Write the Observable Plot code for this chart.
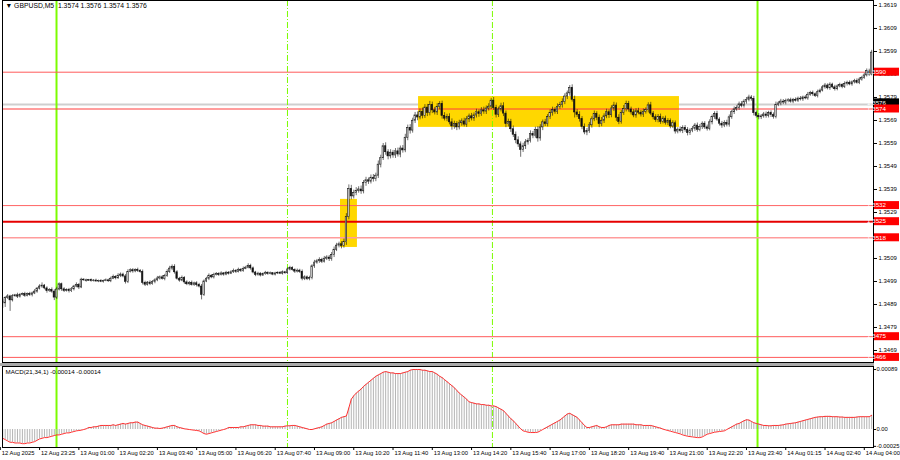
<!DOCTYPE html>
<html>
<head>
<meta charset="utf-8">
<script src="https://cdn.jsdelivr.net/npm/d3@7"></script>
<script src="https://cdn.jsdelivr.net/npm/@observablehq/plot@0.6"></script>
<style>
  html, body { margin: 0; padding: 0; background: #ffffff; }
  #chart { position: relative; width: 900px; height: 460px; overflow: hidden; background: #ffffff; }
  #chart svg { position: absolute; left: 0; }
  #sep { position: absolute; left: 0px; width: 874px; top: 363px; height: 3px; background: #a9a9a9; }
</style>
</head>
<body>
<div id="chart"><div id="sep"></div></div>
<script>
// ---------------- data ----------------
const symbolTitle = "\u25BC GBPUSD,M5  1.3574 1.3576 1.3574 1.3576";
const macdTitle = "MACD(21,34,1) -0.00014 -0.00014";

const firstOpen = 1.34896;
const closes = [
1.34902,
1.34895,1.34918,1.34925,1.34908,1.34926,1.34930,1.34924,1.34932,1.34935,1.34928,1.34936,1.34931,1.34938,1.34946,1.34959,1.34968,
1.34972,1.34960,1.34948,1.34953,1.34946,1.34920,1.34955,1.34978,1.34956,1.34949,1.34954,1.34948,1.34956,1.34968,1.34975,1.34964,
1.34998,1.34995,1.34993,1.34996,1.34992,1.34994,1.34990,1.34993,1.34989,1.34992,1.34995,1.34991,1.35002,1.35010,1.35004,1.35015,
1.35020,1.35012,1.34988,1.35032,1.35039,1.35034,1.35040,1.35036,1.35031,1.34984,1.34976,1.34985,1.34979,1.34988,1.34995,1.35003,
1.35008,1.35001,1.35014,1.35032,1.35046,1.35054,1.35030,1.35002,1.34994,1.35006,1.34986,1.34978,1.34984,1.34975,1.34982,1.34974,
1.34968,1.34932,1.34990,1.35002,1.35015,1.35008,1.35019,1.35023,1.35018,1.35025,1.35020,1.35028,1.35024,1.35030,1.35036,1.35032,
1.35041,1.35036,1.35045,1.35050,1.35058,1.35047,1.35029,1.35018,1.35024,1.35016,1.35022,1.35028,1.35023,1.35026,1.35020,1.35025,
1.35028,1.35024,1.35030,1.35026,1.35042,1.35048,1.35040,1.35033,1.35037,1.35032,1.35002,1.35008,1.35000,1.35005,1.35056,1.35072,
1.35078,1.35084,1.35076,1.35089,1.35094,1.35087,1.35105,1.35128,1.35146,1.35152,1.35144,1.35161,1.35270,1.35392,1.35360,1.35375,
1.35384,1.35390,1.35382,1.35418,1.35430,1.35424,1.35441,1.35435,1.35450,1.35498,1.35526,1.35578,1.35552,1.35534,1.35550,1.35538,
1.35556,1.35542,1.35568,1.35560,1.35615,1.35658,1.35646,1.35689,1.35712,1.35703,1.35728,1.35710,1.35746,1.35722,1.35758,1.35734,
1.35725,1.35748,1.35762,1.35710,1.35698,1.35706,1.35682,1.35664,1.35675,1.35660,1.35678,1.35686,1.35672,1.35695,1.35708,1.35699,
1.35712,1.35726,1.35718,1.35734,1.35729,1.35742,1.35750,1.35776,1.35744,1.35715,1.35738,1.35752,1.35720,1.35674,1.35683,1.35652,
1.35628,1.35604,1.35586,1.35562,1.35578,1.35595,1.35602,1.35631,1.35624,1.35648,1.35612,1.35660,1.35682,1.35674,1.35705,1.35722,
1.35736,1.35728,1.35749,1.35758,1.35770,1.35794,1.35808,1.35832,1.35780,1.35725,1.35714,1.35696,1.35662,1.35638,1.35645,1.35669,
1.35695,1.35718,1.35702,1.35674,1.35689,1.35708,1.35726,1.35713,1.35742,1.35755,1.35702,1.35684,1.35723,1.35740,1.35762,1.35738,
1.35725,1.35712,1.35730,1.35724,1.35716,1.35728,1.35735,1.35756,1.35720,1.35704,1.35692,1.35706,1.35684,1.35698,1.35680,1.35688,
1.35664,1.35678,1.35642,1.35650,1.35644,1.35658,1.35648,1.35635,1.35646,1.35654,1.35668,1.35649,1.35662,1.35676,1.35660,1.35654,
1.35682,1.35705,1.35718,1.35694,1.35676,1.35668,1.35680,1.35672,1.35704,1.35726,1.35738,1.35745,1.35760,1.35754,1.35772,1.35780,
1.35790,1.35784,1.35722,1.35710,1.35704,1.35708,1.35716,1.35710,1.35722,1.35714,1.35706,1.35758,1.35764,1.35772,1.35768,1.35775,
1.35778,1.35772,1.35780,1.35776,1.35785,1.35782,1.35790,1.35786,1.35802,1.35810,1.35804,1.35796,1.35813,1.35820,1.35834,1.35842,
1.35830,1.35846,1.35834,1.35826,1.35838,1.35844,1.35836,1.35849,1.35854,1.35847,1.35856,1.35862,1.35854,1.35868,1.35875,1.35886,
1.35906,1.35890,1.35985
];

// upper / lower shadow lengths, in pips
const wickHi = [
0.6,
1.0,0.6,0.8,0.5,0.7,0.4,0.9,0.6,0.5,0.8,0.4,0.7,0.6,0.9,0.5,0.8,
1.2,0.5,0.7,0.6,0.9,0.8,1.0,0.6,0.5,0.7,0.4,0.6,0.8,0.5,0.9,0.6,
0.6,0.4,0.5,0.3,0.5,0.4,0.6,0.3,0.5,0.4,0.6,0.5,0.7,0.8,0.5,0.9,
0.7,0.6,0.8,0.9,0.6,0.7,0.5,0.8,0.6,0.9,0.7,0.5,0.8,0.6,0.7,0.9,
0.6,0.8,0.7,0.9,1.0,0.8,0.9,0.7,0.6,0.8,0.5,0.7,0.6,0.8,0.5,0.7,
0.8,0.9,0.7,0.6,0.8,0.5,0.7,0.6,0.5,0.7,0.4,0.6,0.5,0.7,0.8,0.6,
0.7,0.5,0.8,0.6,0.9,0.7,0.6,0.5,0.6,0.4,0.5,0.6,0.4,0.5,0.3,0.5,
0.4,0.5,0.6,0.4,0.7,0.8,0.6,0.5,0.7,0.6,0.8,0.7,0.6,0.8,0.7,1.0,
0.8,0.9,0.7,1.0,0.8,0.9,1.1,1.2,1.0,0.9,1.1,1.3,1.5,1.8,1.6,1.2,
1.4,1.2,1.5,1.1,1.3,1.0,1.2,1.4,1.1,1.6,1.3,1.2,1.5,1.1,1.3,1.0,
1.2,1.4,1.1,1.3,1.5,1.2,1.4,1.1,1.3,1.5,1.2,1.6,1.3,1.4,1.5,1.2,
1.3,1.5,1.0,1.2,1.4,1.1,1.3,1.5,1.2,1.0,1.3,1.1,1.4,1.2,1.0,1.3,
1.1,1.3,1.0,1.2,1.4,1.1,1.3,1.0,1.4,1.2,1.0,1.3,1.5,1.1,1.3,1.2,
1.4,1.2,1.5,1.1,1.3,1.2,1.0,1.4,1.1,1.3,1.5,1.2,1.0,1.3,1.1,1.4,
1.2,1.0,1.3,1.1,1.4,1.2,1.0,1.0,1.3,1.6,1.2,1.4,1.1,1.3,1.0,1.2,
1.1,1.3,1.0,1.2,1.4,1.1,1.3,1.0,1.2,1.4,1.1,1.3,1.0,1.5,1.2,1.1,
1.0,1.2,1.1,1.3,0.9,1.2,1.0,1.1,1.3,0.9,1.1,1.0,1.2,0.9,1.1,1.0,
0.9,1.1,1.0,0.8,1.2,0.9,1.0,1.1,0.8,1.0,0.9,1.1,1.0,0.8,0.9,1.0,
1.1,0.9,1.0,1.2,0.8,1.0,0.9,1.1,1.0,0.8,1.1,0.9,1.0,1.2,0.9,1.0,
1.0,0.8,1.1,0.9,1.0,0.8,0.9,1.1,0.8,1.0,0.9,1.2,0.8,1.0,0.9,0.8,
0.7,0.9,0.6,0.8,0.7,0.9,0.6,0.8,1.0,0.7,0.8,0.6,0.9,0.7,0.8,0.9,
0.7,0.8,0.6,0.9,0.7,0.8,0.6,0.9,0.7,0.8,0.6,0.7,0.9,0.8,0.7,0.9,
0.8,0.7,1.0
];
const wickLo = [
0.8,
2.2,1.8,0.6,4.8,0.7,0.5,0.8,0.6,0.4,0.7,0.5,0.6,0.8,0.5,0.7,0.6,
0.8,0.6,0.9,0.5,0.7,1.3,0.8,0.6,0.9,0.7,0.5,0.8,0.6,0.7,0.5,0.9,
0.5,0.4,0.6,0.3,0.5,0.4,0.3,0.5,0.4,0.6,0.3,0.5,0.6,0.4,0.7,0.5,
0.8,0.6,0.9,0.7,0.5,0.8,0.6,0.7,0.5,0.9,0.8,0.6,0.7,0.5,0.8,0.6,
0.7,0.5,0.8,0.6,0.7,0.9,0.8,0.6,0.7,0.5,0.8,0.6,0.7,0.5,0.6,0.8,
0.6,2.2,0.7,0.5,0.8,0.6,0.7,0.5,0.6,0.4,0.7,0.5,0.6,0.4,0.5,0.7,
0.5,0.7,0.6,0.4,0.5,0.8,0.6,0.7,0.5,0.6,0.4,0.5,0.6,0.4,0.5,0.6,
0.5,0.4,0.6,0.5,0.7,0.6,0.5,0.8,0.6,0.7,0.9,0.8,0.6,0.7,0.8,0.9,
0.7,0.9,0.8,0.6,0.8,1.0,0.9,1.1,0.8,1.0,1.2,0.9,1.4,1.2,1.5,1.1,
1.2,1.0,1.3,1.1,1.4,1.2,1.0,1.3,1.1,1.2,1.4,1.0,1.3,1.5,1.1,1.2,
1.3,1.1,1.4,1.2,1.0,1.3,1.5,1.1,1.2,1.4,1.0,1.3,1.1,1.5,1.2,1.4,
1.1,1.3,1.2,1.4,1.0,1.3,1.1,1.6,1.2,1.4,1.1,1.3,1.0,1.2,1.4,1.1,
1.3,1.1,1.4,1.0,1.2,1.3,1.1,1.2,1.0,1.4,1.2,1.1,1.3,1.5,1.2,1.4,
1.2,1.5,1.3,3.2,1.1,1.4,1.2,1.0,1.3,1.1,1.6,1.2,1.4,1.0,1.2,1.1,
1.3,1.1,1.2,1.0,1.4,1.1,1.3,1.2,1.0,2.4,1.1,1.3,1.2,1.0,1.4,1.1,
1.2,1.0,1.3,1.5,1.1,1.2,1.0,1.4,1.1,1.3,1.6,1.2,1.0,1.1,1.3,1.2,
1.1,1.0,1.2,0.9,1.1,1.3,1.0,1.2,0.9,1.1,1.0,1.2,1.1,0.9,1.0,1.2,
1.0,0.9,1.1,1.0,0.8,1.1,0.9,1.2,1.0,0.9,1.1,1.0,0.8,1.1,0.9,1.0,
0.9,1.1,1.0,0.8,1.0,1.2,0.9,1.0,1.1,0.9,1.0,0.8,1.1,0.9,1.0,1.1,
0.9,1.0,1.2,0.9,1.1,1.0,0.8,1.0,0.9,1.1,1.0,0.9,0.8,1.0,0.9,1.0,
0.8,0.7,0.9,0.6,0.8,0.7,0.9,0.6,0.8,0.7,0.9,0.6,0.8,0.7,0.6,0.8,
0.7,0.9,0.6,0.8,0.7,0.6,0.8,0.7,0.9,0.6,0.8,0.7,0.6,0.8,0.7,0.6,
0.7,0.8,0.6
];

const macd = [
-0.00012,
-0.00013,-0.00015,-0.00017,-0.00019,-0.00019,-0.0002,-0.0002,-0.0002,-0.00021,-0.00021,-0.0002,-0.0002,-0.00019,-0.00018,-0.00016,-0.00014,
-0.00013,-0.00012,-0.00012,-0.00011,-0.0001,-0.00009,-0.00008,-0.00008,-0.00007,-0.00006,-0.00005,-0.00005,-0.00004,-0.00003,-0.00002,-0.000015,
-0.00001,0,0.00001,0.00003,0.00003,0.00004,0.00004,0.00005,0.00006,0.00006,0.00006,0.00006,0.00006,0.00007,0.00006,0.00007,
0.00008,0.00009,0.00008,0.00009,0.0001,0.0001,0.00011,0.00011,0.00009,0.00007,0.00006,0.00005,0.00004,0.00003,0.00002,0.00002,
0.000015,0.00002,0.00003,0.00004,0.00005,0.00006,0.00006,0.00004,0.00003,0.00002,0.00001,0.000005,0,-0.000005,-0.00001,-0.000015,
-0.00002,-0.00004,-0.00006,-0.00007,-0.00006,-0.00005,-0.00004,-0.00003,-0.00002,-0.00001,0,0.00001,0.00003,0.00003,0.00003,0.00003,
0.00003,0.00004,0.00004,0.00005,0.00006,0.00007,0.00007,0.00007,0.00006,0.00006,0.00005,0.00005,0.00005,0.00004,0.00004,0.00004,
0.00004,0.00004,0.00004,0.00005,0.000055,0.000055,0.00006,0.00006,0.00005,0.00004,0.00003,0.00002,0.00001,0,0,0.00001,
0.00002,0.00003,0.00004,0.00006,0.00008,0.00009,0.0001,0.00012,0.00014,0.00016,0.00018,0.00019,0.0002,0.00032,0.00045,0.0005,
0.00054,0.00057,0.0006,0.00064,0.00067,0.0007,0.00073,0.00076,0.00079,0.00081,0.00083,0.00085,0.00086,0.00085,0.00084,0.00084,
0.00083,0.00083,0.00083,0.00084,0.00085,0.00086,0.00088,0.00089,0.00089,0.00089,0.00089,0.00088,0.00088,0.00087,0.00086,0.00086,
0.00084,0.00082,0.00079,0.00077,0.00074,0.00071,0.00068,0.00065,0.00062,0.00058,0.00054,0.00051,0.00048,0.00045,0.00041,0.0004,
0.00039,0.00038,0.00038,0.00037,0.00037,0.00036,0.00036,0.00035,0.00035,0.00034,0.00032,0.0003,0.00028,0.00024,0.0002,0.00016,
0.00013,0.00009,0.00005,0.00001,-0.00002,-0.00003,-0.00004,-0.000045,-0.000045,-0.000045,-0.00004,-0.00002,0,0.00002,0.00004,0.00006,
0.00008,0.0001,0.00012,0.00014,0.00017,0.0002,0.00023,0.00024,0.00022,0.0002,0.00018,0.00014,0.0001,0.00006,0.00003,0.00003,
0.00004,0.00005,0.00006,0.00004,0.00003,0.00003,0.00004,0.00006,0.00007,0.00007,0.00007,0.00007,0.00008,0.00008,0.00008,0.00008,
0.00008,0.00008,0.00007,0.00007,0.00007,0.00006,0.00006,0.00006,0.00006,0.00005,0.00004,0.00003,0.00002,0.000005,-0.000005,-0.000015,
-0.000025,-0.000035,-0.000045,-0.000055,-0.000065,-0.00008,-0.00009,-0.0001,-0.000105,-0.00011,-0.000115,-0.00012,-0.00012,-0.00011,-0.00009,-0.00007,
-0.00006,-0.00005,-0.00004,-0.000035,-0.00003,-0.000025,-0.00002,0,0.00002,0.00004,0.00006,0.00008,0.00009,0.00011,0.00013,0.000145,
0.00014,0.00012,0.0001,0.00009,0.00008,0.00007,0.00006,0.00006,0.000055,0.000055,0.00006,0.00006,0.00006,0.000065,0.00007,0.00008,
0.000085,0.00009,0.000095,0.0001,0.00011,0.00012,0.00013,0.00014,0.00015,0.00016,0.00017,0.00018,0.000185,0.00019,0.00019,0.000195,
0.000195,0.000195,0.00019,0.00019,0.00019,0.000185,0.000185,0.00018,0.00018,0.00018,0.00018,0.00018,0.000185,0.00019,0.00019,0.00019,
0.00019,0.00019,0.00021
];

const xTickBars = [0,16,32,48,64,80,96,112,128,144,160,176,192,208,224,240,256,272,288,304,320,336,352];
const xTickLabels = ["12 Aug 2025","12 Aug 23:25","13 Aug 01:00","13 Aug 02:20","13 Aug 03:40","13 Aug 05:00",
  "13 Aug 06:20","13 Aug 07:40","13 Aug 09:00","13 Aug 10:20","13 Aug 11:40","13 Aug 13:00","13 Aug 14:20",
  "13 Aug 15:40","13 Aug 17:00","13 Aug 18:20","13 Aug 19:40","13 Aug 21:00","13 Aug 22:20","13 Aug 23:40",
  "14 Aug 01:15","14 Aug 02:40","14 Aug 04:00"];

// 1.3519 is hidden behind the 1.3518 tag in the reference, so it is not listed
const priceTicks = [1.3469,1.3479,1.3489,1.3499,1.3509,1.3529,1.3539,1.3549,1.3559,1.3569,1.3579,1.3589,1.3599,1.3609,1.3619];
const levelPrices = [1.3590, 1.3574, 1.3532, 1.3525, 1.3518, 1.3475, 1.3466];
const levelLabels = ["1.3590","1.3574","1.3532","1.3525","1.3518","1.3475","1.3466"];
const bidPrice = 1.3576;
const bidLabel = "1.3576";

const sessionBars = [22.9, 117, 200.5, 308.5];
const sessionKind = ["solid","dashdot","dashdot","solid"];

const boxBarStart = [138.6, 170.4];
const boxBarEnd = [145.5, 276.7];
const boxLow = [1.35138, 1.35660];
const boxHigh = [1.35347, 1.35794];

const macdTicks = [0.00089, 0, -0.00025];
const macdTickLabels = ["0.00089", "0.00", "-0.00025"];

// ---------------- styling / scales ----------------
const FONT = "'Liberation Sans', Arial, sans-serif";
const X_DOMAIN = [0.896, 355.75];
const P_DOMAIN = [1.346378, 1.362117];
const M_DOMAIN = [-0.000267, 0.000935];
const LEVEL_COLORS = ["#ff5a5a", "#ff3c3c", "#ff6464", "#e60000", "#ff9c9c", "#ff5a5a", "#ff5a5a"];
const LEVEL_WIDTHS = [1, 1.2, 1, 2, 1.5, 1, 1];
const GREEN = "#7CFC00";

const bars = closes.map((c, i) => {
  const o = i === 0 ? firstOpen : closes[i - 1];
  return { i, o, c, up: c >= o,
    h: Math.max(o, c) + wickHi[i] * 1e-4,
    l: Math.min(o, c) - wickLo[i] * 1e-4 };
});
const boxes = boxBarStart.map((b0, k) => ({ b0, b1: boxBarEnd[k], lo: boxLow[k], hi: boxHigh[k] }));
const solidSess = sessionBars.filter((b, k) => sessionKind[k] === "solid");
const dashSess = sessionBars.filter((b, k) => sessionKind[k] === "dashdot");

const sessionMarks = () => [
  Plot.ruleX(solidSess, { x: d => d, stroke: GREEN, strokeWidth: 2 }),
  Plot.ruleX(dashSess, { x: d => d, stroke: GREEN, strokeWidth: 1, strokeDasharray: "6,2,1,2" })
];

const price = Plot.plot({
  width: 900, height: 363,
  marginTop: 0, marginBottom: 1, marginLeft: 2, marginRight: 27,
  x: { domain: X_DOMAIN, axis: null },
  y: { domain: P_DOMAIN, axis: null },
  style: { fontFamily: FONT, fontSize: "6px", background: "transparent", color: "#000", overflow: "visible" },
  marks: [
    Plot.ruleY([bidPrice], { stroke: "#cfcfcf", strokeWidth: 2 }),
    Plot.rect(boxes, { x1: "b0", x2: "b1", y1: "lo", y2: "hi", fill: "#FFD700" }),
    ...sessionMarks(),
    ...levelPrices.map((p, k) => Plot.ruleY([p], { stroke: LEVEL_COLORS[k], strokeWidth: LEVEL_WIDTHS[k] })),
    Plot.ruleX(bars, { x: "i", y1: "l", y2: "h", stroke: "#111", strokeWidth: 0.6, clip: true }),
    Plot.rect(bars.filter(d => d.up), { x1: d => d.i - 0.27, x2: d => d.i + 0.27, y1: "o", y2: "c", fill: "#fff", stroke: "#111", strokeWidth: 0.6, clip: true }),
    Plot.rect(bars.filter(d => !d.up), { x1: d => d.i - 0.27, x2: d => d.i + 0.27, y1: "o", y2: "c", fill: "#111", stroke: "#111", strokeWidth: 0.6, clip: true }),
    Plot.frame({ stroke: "#000" }),
    Plot.axisY({ anchor: "right", ticks: priceTicks, tickFormat: d => d.toFixed(4), tickSize: 3, tickPadding: 2 }),
    Plot.text([symbolTitle], { text: d => d, frameAnchor: "top-left", dx: 3, dy: 3, textAnchor: "start", lineAnchor: "top", fill: "#000", fontSize: 6.8 })
  ]
});
price.style.top = "0px";
document.getElementById("chart").appendChild(price);

// price tags on the right scale (positioned with Plot's y scale)
const yS = price.scale("y");
const svgP = d3.select(price);
const addTag = (p, label, bg, shift) => {
  const y = yS.apply(p) + shift;
  svgP.append("rect").attr("x", 874).attr("y", y - 4).attr("width", 25).attr("height", 8).attr("fill", bg);
  svgP.append("text").attr("x", 876.5).attr("y", y).attr("dy", "0.36em").attr("fill", "#fff")
    .style("font-family", FONT).style("font-size", "6.2px").text(label);
};
addTag(bidPrice, bidLabel, "#000", -1.5);
levelPrices.forEach((p, k) => addTag(p, levelLabels[k], "#ff0000", 0));

const macdPlot = Plot.plot({
  width: 900, height: 97,
  marginTop: 3, marginBottom: 13, marginLeft: 2, marginRight: 27,
  x: { domain: X_DOMAIN, axis: null },
  y: { domain: M_DOMAIN, axis: null },
  style: { fontFamily: FONT, fontSize: "5.8px", background: "transparent", color: "#000", overflow: "visible" },
  marks: [
    ...sessionMarks(),
    Plot.ruleX(macd, { x: (d, i) => i, y1: 0, y2: d => d, stroke: "#b4b4b4", strokeWidth: 1, clip: true }),
    Plot.line(macd, { x: (d, i) => i, y: d => d, stroke: "#ff3030", strokeWidth: 1, clip: true }),
    Plot.frame({ stroke: "#000" }),
    Plot.axisY({ anchor: "right", ticks: macdTicks, tickFormat: d => macdTickLabels[macdTicks.indexOf(d)], tickSize: 2, tickPadding: 1 }),
    Plot.axisX({ anchor: "bottom", ticks: xTickBars, tickFormat: () => "", tickSize: 3 }),
    Plot.text(xTickBars, { x: d => d, text: (d, i) => xTickLabels[i], frameAnchor: "bottom", textAnchor: "start", lineAnchor: "top", dx: 1.5, dy: 3, fill: "#000" }),
    Plot.text([macdTitle], { text: d => d, frameAnchor: "top-left", dx: 3, dy: 3, textAnchor: "start", lineAnchor: "top", fill: "#000", fontSize: 6.2 })
  ]
});
macdPlot.style.top = "363px";
document.getElementById("chart").appendChild(macdPlot);
</script>
</body>
</html>
